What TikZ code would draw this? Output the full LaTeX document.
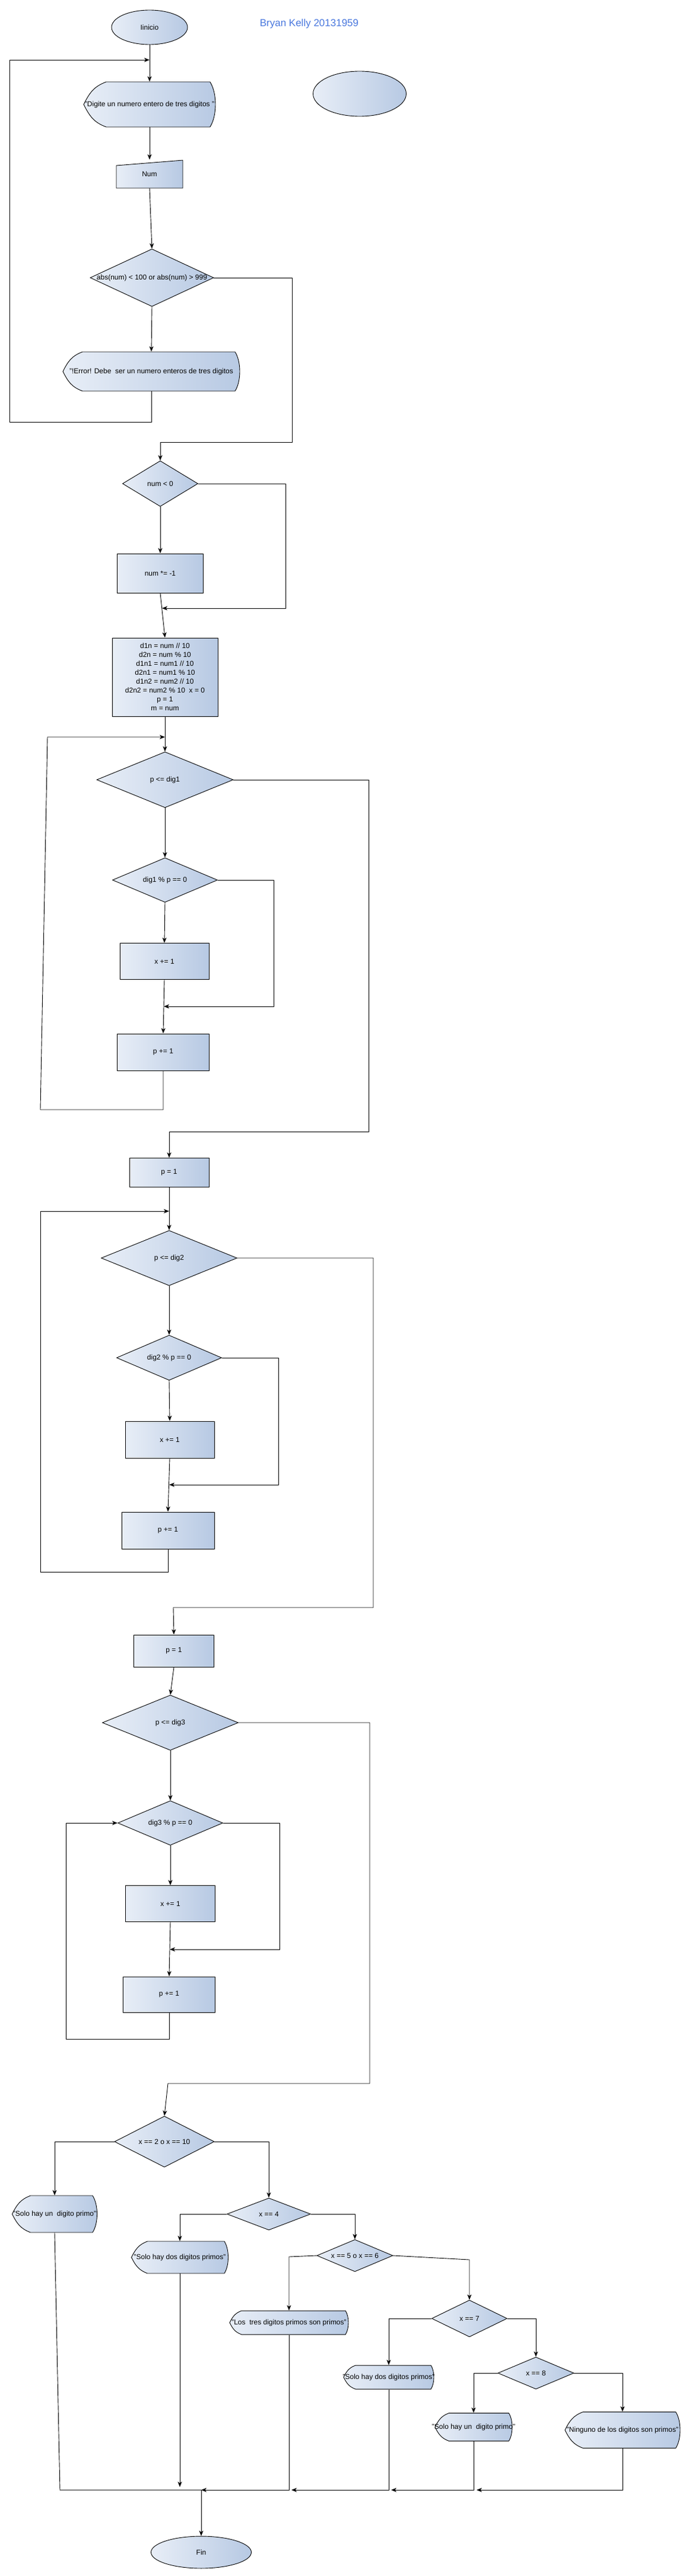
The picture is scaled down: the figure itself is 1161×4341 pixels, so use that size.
\documentclass[tikz,border=0pt]{standalone}
\usepackage{fontspec}
\setmainfont{Liberation Sans}
\usetikzlibrary{shapes.geometric,arrows.meta}
\definecolor{fillA}{HTML}{E8EEF7}
\definecolor{fillB}{HTML}{B7C9E3}
\definecolor{titleblue}{HTML}{4A78DE}

\newcommand{\dispbox}[6]{%
	\shadedraw[shapefill]
		({#2-#4/2+#5/2},{#3-#5/2}) -- ({#2+#4/2-0.12*#5},{#3-#5/2})
		.. controls ({#2+#4/2+0.04*#5},{#3-0.25*#5}) and ({#2+#4/2+0.04*#5},{#3+0.25*#5}) .. ({#2+#4/2-0.12*#5},{#3+#5/2})
		-- ({#2-#4/2+#5/2},{#3+#5/2})
		.. controls ({#2-#4/2+0.225*#5},{#3+0.4*#5}) and ({#2-#4/2+0.125*#5},{#3+0.25*#5}) .. ({#2-#4/2},{#3})
		.. controls ({#2-#4/2+0.125*#5},{#3-0.25*#5}) and ({#2-#4/2+0.225*#5},{#3-0.4*#5}) .. cycle;
	\node[txt, minimum width=#4pt, minimum height=#5pt] (#1) at (#2,#3) {#6};
}

\begin{document}
\begin{tikzpicture}[x=1pt, y=-1pt, line width=0.9pt,
		>={Stealth[length=9pt,width=7pt,inset=2.5pt]},
		font=\fontsize{12}{15}\selectfont,
		shapefill/.style={draw=black, line width=0.9pt, left color=fillA, right color=fillB},
		txt/.style={inner sep=0pt, align=center},
		term/.style={ellipse, shapefill, inner sep=0pt},
		proc/.style={rectangle, shapefill, inner sep=0pt, align=center},
		dec/.style={diamond, shapefill, inner sep=0pt}]

	\fill[white] (0,0) rectangle (1161,4341);
	\useasboundingbox (0,0) rectangle (1161,4341);

	\node[term, minimum width=128pt, minimum height=58pt] (Inicio) at (252,46) {Iinicio};
	\node[font=\fontsize{17}{20}\selectfont, text=titleblue] (Autor) at (521,40) {Bryan Kelly 20131959};
	\node[term, minimum width=157pt, minimum height=76pt] (Vacio) at (606,158) {};
	\coordinate (JEntrada) at (252,101);
	\dispbox{Digite}{252}{176}{222}{76}{"Digite un numero entero de tres digitos "}
	\shadedraw[shapefill] (196,279) -- (308,270) -- (308,317) -- (196,317) -- cycle;
	\node[txt, minimum width=112pt, minimum height=47pt] (Num) at (252,293) {Num};
	\node[dec, minimum width=208pt, minimum height=97pt, label=center:{abs(num) < 100 or abs(num) > 999}] (Rango) at (256,468) {};
	\dispbox{Error}{255}{626}{298}{66}{"!Error! Debe~ ser un numero enteros de tres digitos}

	\node[dec, minimum width=127pt, minimum height=77pt, label=center:{num < 0}] (NumNeg) at (270,815) {};
	\node[proc, minimum width=145pt, minimum height=66pt] (Neg) at (270,966) {num *= -1};
	\coordinate (JNeg) at (273,1025);
	\node[proc, minimum width=178pt, minimum height=132pt] (Calc) at (278,1141) {d1n = num // 10\\ d2n = num \% 10\\ d1n1 = num1 // 10\\ d2n1 = num1 \% 10\\ d1n2 = num2 // 10\\ d2n2 = num2 \% 10~ x = 0\\ p = 1\\ m = num};

	\coordinate (JDig1) at (278,1242);
	\node[dec, minimum width=230pt, minimum height=94pt, label=center:{p <= dig1}] (Dig1) at (278,1314) {};
	\node[dec, minimum width=177pt, minimum height=75pt, label=center:{dig1 \% p == 0}] (Mod1) at (278,1483) {};
	\node[proc, minimum width=150pt, minimum height=61pt] (SumX1) at (277,1620) {x += 1};
	\coordinate (JMod1) at (276,1696);
	\node[proc, minimum width=155pt, minimum height=62pt] (SumP1) at (275,1773) {p += 1};

	\node[proc, minimum width=134pt, minimum height=49pt] (P2) at (285,1976) {p = 1};
	\coordinate (JDig2) at (285,2041);
	\node[dec, minimum width=229pt, minimum height=93pt, label=center:{p <= dig2}] (Dig2) at (285,2120) {};
	\node[dec, minimum width=177pt, minimum height=76pt, label=center:{dig2 \% p == 0}] (Mod2) at (285,2288) {};
	\node[proc, minimum width=150pt, minimum height=62pt] (SumX2) at (286,2426) {x += 1};
	\coordinate (JMod2) at (285,2502);
	\node[proc, minimum width=156pt, minimum height=62pt] (SumP2) at (283,2579) {p += 1};

	\node[proc, minimum width=135pt, minimum height=54pt] (P3) at (293,2782) {p = 1};
	\node[dec, minimum width=229pt, minimum height=93pt, label=center:{p <= dig3}] (Dig3) at (287,2903) {};
	\node[dec, minimum width=177pt, minimum height=75pt, label=center:{dig3 \% p == 0}] (Mod3) at (287,3072) {};
	\node[proc, minimum width=151pt, minimum height=61pt] (SumX3) at (287,3208) {x += 1};
	\coordinate (JMod3) at (286,3285);
	\node[proc, minimum width=155pt, minimum height=60pt] (SumP3) at (285,3361) {p += 1};

	\node[dec, minimum width=168pt, minimum height=86pt, label=center:{x == 2 o x == 10}] (Cond2) at (277,3609) {};
	\dispbox{Un1}{92}{3731}{143}{62}{"Solo hay un~ digito primo"}
	\node[dec, minimum width=141pt, minimum height=54pt, label=center:{x == 4}] (Cond4) at (453,3731) {};
	\dispbox{Dos1}{303}{3804}{163}{54}{"Solo hay dos digitos primos"}
	\node[dec, minimum width=128pt, minimum height=54pt, label=center:{x == 5 o x == 6}] (Cond56) at (598,3801) {};
	\dispbox{Tres}{487}{3914}{200}{40}{"Los~ tres digitos primos son primos"}
	\node[dec, minimum width=127pt, minimum height=62pt, label=center:{x == 7}] (Cond7) at (791,3907) {};
	\dispbox{Dos2}{655}{4006}{152}{40}{"Solo hay dos digitos primos"}
	\node[dec, minimum width=128pt, minimum height=54pt, label=center:{x == 8}] (Cond8) at (903,3999) {};
	\dispbox{Un2}{798}{4090}{130}{47}{"Solo hay un~ digito primo"}
	\dispbox{Ninguno}{1049}{4095}{194}{61}{"Ninguno de los digitos son primos"}
	\coordinate (JDos1) at (303,4191);
	\coordinate (JFin) at (339,4196);
	\coordinate (JTres) at (491,4196);
	\coordinate (JDos2) at (659,4196);
	\coordinate (JUn2) at (803,4196);
	\node[term, minimum width=169pt, minimum height=54pt] (Fin) at (339,4301) {Fin};

	\draw[->] (Inicio.south) -- (Digite.north);
	\draw[->] (Digite.south) -- (Num.north);
	\draw[->] (Num.south) -- (Rango.north);
	\draw[->] (Rango.south) -- (Error.north);
	\draw[->] (Error.south) -- (255,711) -- (16,711) -- (16,101) -- (JEntrada);
	\draw[->] (Rango.east) -- (492,468) -- (492,745) -- (270,745) -- (NumNeg.north);

	\draw[->] (NumNeg.south) -- (Neg.north);
	\draw[->] (NumNeg.east) -- (481,815) -- (481,1025) -- (JNeg);
	\draw[->] (Neg.south) -- (Calc.north);

	\draw[->] (Calc.south) -- (Dig1.north);
	\draw[->] (Dig1.south) -- (Mod1.north);
	\draw[->] (Mod1.south) -- (SumX1.north);
	\draw[->] (SumX1.south) -- (SumP1.north);
	\draw[->] (Mod1.east) -- (461,1483) -- (461,1696) -- (JMod1);
	\draw[->] (SumP1.south) -- (275,1870) -- (68,1870) -- (80,1242) -- (JDig1);
	\draw[->] (Dig1.east) -- (621,1314) -- (621,1907) -- (285,1907) -- (P2.north);

	\draw[->] (P2.south) -- (Dig2.north);
	\draw[->] (Dig2.south) -- (Mod2.north);
	\draw[->] (Mod2.south) -- (SumX2.north);
	\draw[->] (SumX2.south) -- (SumP2.north);
	\draw[->] (Mod2.east) -- (469,2288) -- (469,2502) -- (JMod2);
	\draw[->] (SumP2.south) -- (283,2649) -- (68,2649) -- (68,2041) -- (JDig2);
	\draw[->] (Dig2.east) -- (629,2120) -- (629,2709) -- (292,2709) -- (P3.north);

	\draw[->] (P3.south) -- (Dig3.north);
	\draw[->] (Dig3.south) -- (Mod3.north);
	\draw[->] (Mod3.south) -- (SumX3.north);
	\draw[->] (SumX3.south) -- (SumP3.north);
	\draw[->] (Mod3.east) -- (471,3072) -- (471,3285) -- (JMod3);
	\draw[->] (SumP3.south) -- (285,3436) -- (111,3436) -- (111,3072) -- (Mod3.west);
	\draw[->] (Dig3.east) -- (623,2903) -- (623,3511) -- (283,3511) -- (Cond2.north);

	\draw[->] (Cond2.west) -- (92,3609) -- (Un1.north);
	\draw[->] (Cond2.east) -- (453,3609) -- (Cond4.north);
	\draw[->] (Cond4.west) -- (303,3731) -- (Dos1.north);
	\draw[->] (Cond4.east) -- (598,3731) -- (Cond56.north);
	\draw[->] (Cond56.west) -- (487,3803) -- (Tres.north);
	\draw[->] (Cond56.east) -- (791,3808) -- (Cond7.north);
	\draw[->] (Cond7.west) -- (655,3907) -- (Dos2.north);
	\draw[->] (Cond7.east) -- (903,3907) -- (Cond8.north);
	\draw[->] (Cond8.west) -- (798,3999) -- (Un2.north);
	\draw[->] (Cond8.east) -- (1049,3999) -- (Ninguno.north);
	\draw (Un1.south) -- (101,4196) -- (JFin);
	\draw[->] (Dos1.south) -- (JDos1);
	\draw[->] (Tres.south) -- (487,4196) -- (JFin);
	\draw[->] (Dos2.south) -- (655,4196) -- (JTres);
	\draw[->] (Un2.south) -- (798,4196) -- (JDos2);
	\draw[->] (Ninguno.south) -- (1049,4196) -- (JUn2);
	\draw[->] (JFin) -- (Fin.north);

\end{tikzpicture}
\end{document}
